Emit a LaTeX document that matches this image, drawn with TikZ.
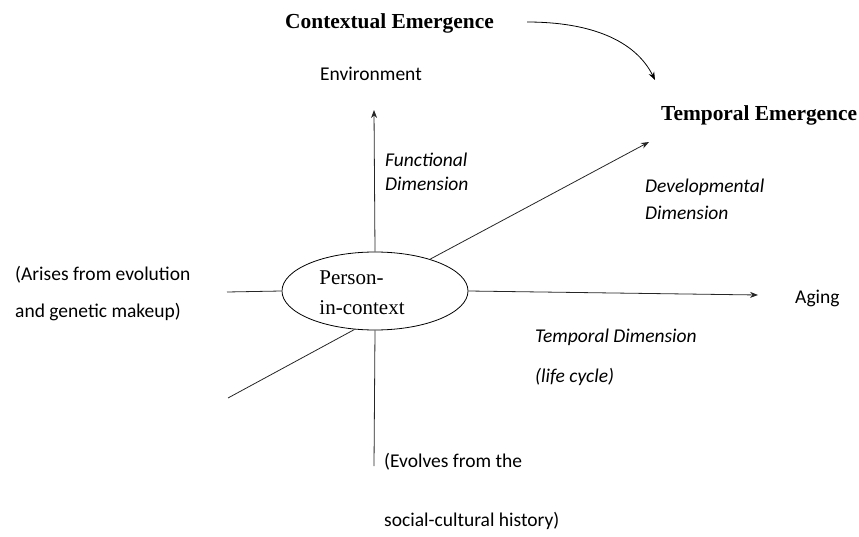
\documentclass[tikz,border=0pt]{standalone}
\usepackage{fontspec}
\setmainfont{Liberation Serif}
\newfontfamily\labelfont{Carlito}
\usetikzlibrary{arrows.meta,shapes.geometric}

\tikzset{
  axis/.style={thick, draw=black!85},
  tip/.style={-{Stealth[length=8pt,width=6pt]}},
  plain/.style={font=\labelfont\fontsize{19.5}{22}\selectfont, anchor=west, inner sep=0pt},
  dim/.style={plain, font=\labelfont\itshape\fontsize{19.5}{22}\selectfont},
  head/.style={font=\bfseries\fontsize{21.4}{24}\selectfont, anchor=west, inner sep=0pt}
}

\begin{document}
\begin{tikzpicture}[x=1pt,y=-1pt]

\useasboundingbox (0,0) rectangle (859,537);

% Centre ellipse
\node[ellipse, draw, thick, minimum width=186pt, minimum height=78pt] (person) at (375,291) {};
\node[font=\fontsize{21}{30}\selectfont, align=left, inner sep=0pt] (persontext) at (362,293)
      {Person-\\in-context};

% End points of the axes
\coordinate (up) at (374,110);
\coordinate (down) at (374,466);
\coordinate (right) at (758,295);
\coordinate (left) at (227,292);
\coordinate (ne) at (649,142);
\coordinate (sw) at (228,398);

% Draw the axes
\draw[axis, tip] (person.north) -- (up);
\draw[axis] (person.south) -- (down);
\draw[axis, tip] (person.east) -- (right);
\draw[axis] (person.west) -- (left);
\draw[axis, tip] (person.30) -- (ne);
\draw[axis] (person.-118) -- (sw);

% Headings
\node[head] (context) at (285,23) {Contextual Emergence};
\node[head] (temporal) at (661,115) {Temporal Emergence};

% Curved arrow between headings
\coordinate (bendstart) at (527,22);
\coordinate (bendend) at (655,80);
\draw[thick, tip] (bendstart) .. controls (590,22) and (635,40) .. (bendend);

% Labels
\node[plain] (env) at (320,74) {Environment};
\node[dim] (func1) at (385,160) {Functional};
\node[dim] (func2) at (385,184) {Dimension};
\node[dim] (dev1) at (645,187) {Developmental};
\node[dim] (dev2) at (645,213) {Dimension};
\node[plain] (aging) at (795,298) {Aging};
\node[dim] (tdim) at (535,337) {Temporal Dimension};
\node[dim] (life) at (535,377) {(life cycle)};
\node[plain] (arise1) at (15,275) {(Arises from evolution};
\node[plain] (arise2) at (15,312) {and genetic makeup)};
\node[plain] (evolve1) at (384,462) {(Evolves from the};
\node[plain] (evolve2) at (384,521) {social-cultural history)};

\end{tikzpicture}
\end{document}
